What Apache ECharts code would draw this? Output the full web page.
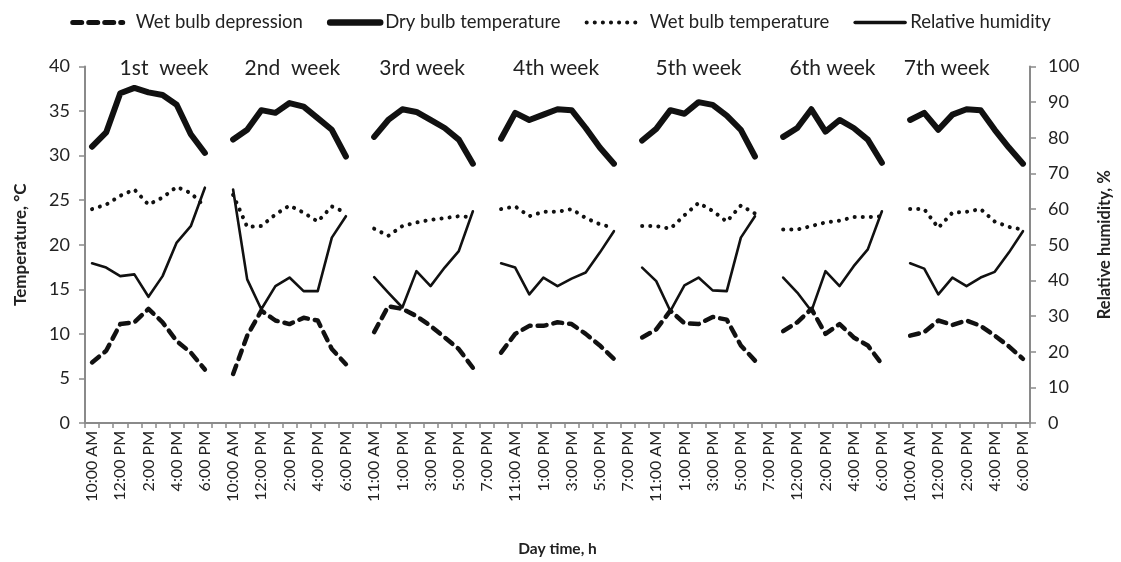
<!DOCTYPE html>
<html>
<head>
<meta charset="utf-8">
<script src="https://cdn.jsdelivr.net/npm/echarts@6/dist/echarts.min.js"></script>
<style>
  html, body { margin: 0; padding: 0; background: #fff; }
  #chart { width: 1121px; height: 562px; }
</style>
</head>
<body>
<div id="chart"></div>
<script>
// Hourly readings, seven weekly blocks separated by empty slots (null).
const timeLabels = [
  '10:00 AM','11:00 AM','12:00 PM','1:00 PM','2:00 PM','3:00 PM','4:00 PM','5:00 PM','6:00 PM','',
  '10:00 AM','11:00 AM','12:00 PM','1:00 PM','2:00 PM','3:00 PM','4:00 PM','5:00 PM','6:00 PM','',
  '11:00 AM','12:00 PM','1:00 PM','2:00 PM','3:00 PM','4:00 PM','5:00 PM','6:00 PM','7:00 PM',
  '10:00 AM','11:00 AM','12:00 PM','1:00 PM','2:00 PM','3:00 PM','4:00 PM','5:00 PM','6:00 PM','7:00 PM',
  '10:00 AM','11:00 AM','12:00 PM','1:00 PM','2:00 PM','3:00 PM','4:00 PM','5:00 PM','6:00 PM','7:00 PM',
  '11:00 AM','12:00 PM','1:00 PM','2:00 PM','3:00 PM','4:00 PM','5:00 PM','6:00 PM','',
  '10:00 AM','11:00 AM','12:00 PM','1:00 PM','2:00 PM','3:00 PM','4:00 PM','5:00 PM','6:00 PM'
];

// Wet bulb depression, °C
const wetBulbDepression = [
  6.8, 8.1, 11.1, 11.3, 12.8, 11.3, 9.2, 7.9, 6.0, null,
  5.5, 9.8, 12.6, 11.5, 11.1, 11.8, 11.5, 8.3, 6.6, null,
  10.2, 13.1, 12.8, 12.0, 10.9, 9.6, 8.3, 6.2, null,
  7.9, 10.0, 10.9, 10.9, 11.3, 11.1, 10.0, 8.7, 7.2, null,
  9.6, 10.5, 12.6, 11.2, 11.1, 11.9, 11.6, 8.7, 7.0, null,
  10.3, 11.3, 12.8, 10.0, 11.1, 9.6, 8.7, 6.6, null,
  9.8, 10.2, 11.5, 11.0, 11.5, 10.9, 9.8, 8.6, 7.2
];

// Dry bulb temperature, °C
const dryBulbTemp = [
  31.0, 32.6, 37.0, 37.6, 37.1, 36.8, 35.7, 32.4, 30.3, null,
  31.8, 32.9, 35.1, 34.8, 35.9, 35.5, 34.2, 32.9, 29.9, null,
  32.1, 34.0, 35.2, 34.9, 34.0, 33.1, 31.8, 29.1, null,
  31.9, 34.8, 34.0, 34.6, 35.2, 35.1, 33.1, 30.9, 29.1, null,
  31.7, 33.0, 35.1, 34.7, 36.0, 35.7, 34.5, 32.9, 29.9, null,
  32.1, 33.1, 35.2, 32.7, 34.0, 33.1, 31.8, 29.2, null,
  34.0, 34.8, 32.9, 34.6, 35.2, 35.1, 32.9, 30.9, 29.1
];

// Wet bulb temperature, °C
const wetBulbTemp = [
  24.0, 24.5, 25.5, 26.2, 24.5, 25.3, 26.5, 25.8, 24.3, null,
  25.6, 22.0, 22.1, 23.4, 24.4, 23.6, 22.6, 24.3, 23.6, null,
  21.8, 21.0, 22.1, 22.5, 22.8, 23.0, 23.2, 23.1, null,
  24.0, 24.3, 23.2, 23.7, 23.7, 24.0, 23.0, 22.3, 21.9, null,
  22.1, 22.1, 21.8, 23.3, 24.7, 23.8, 22.6, 24.4, 23.5, null,
  21.7, 21.7, 22.1, 22.5, 22.7, 23.1, 23.1, 23.2, null,
  24.0, 24.0, 21.9, 23.6, 23.7, 24.0, 22.6, 22.0, 21.7
];

// Relative humidity, %
const relativeHumidity = [
  44.8, 43.6, 41.2, 41.7, 35.4, 41.2, 50.6, 55.2, 66.0, null,
  65.5, 40.3, 31.9, 38.4, 40.8, 37.0, 37.0, 52.0, 58.0, null,
  40.9, 36.6, 32.4, 42.6, 38.4, 43.6, 48.2, 59.4, null,
  44.8, 43.6, 36.1, 40.8, 38.4, 40.5, 42.2, 47.8, 53.8, null,
  43.6, 39.8, 31.4, 38.6, 40.8, 37.2, 37.0, 52.0, 58.0, null,
  40.8, 36.6, 31.4, 42.6, 38.4, 44.0, 48.7, 59.4, null,
  44.8, 43.3, 36.1, 40.8, 38.4, 40.8, 42.4, 47.8, 53.8
];

const weekTitles = ['1st  week', '2nd  week', '3rd week', '4th week', '5th week', '6th week', '7th week'];
// horizontal anchor of each week title, in category units
const weekTitleAnchors = [5.1, 14.2, 23.4, 32.9, 43.0, 52.5, 60.6];

const FONT = 'Lato, "Open Sans", sans-serif';
const TEXT = '#222';
const AXIS = '#8a8a8a';
const INK = '#111';

// stroke settings for each series: [width, dash]
const STROKES = {
  'Wet bulb depression': [4.5, [9, 7]],
  'Dry bulb temperature': [6, 'solid'],
  'Wet bulb temperature': [4, [0.1, 8]],
  'Relative humidity': [2.6, 'solid']
};
// legend swatch width and spacing before the legend text
const LEGEND_SWATCH = {
  'Wet bulb depression': [5, 8],
  'Dry bulb temperature': [6.5, 0],
  'Wet bulb temperature': [4, 8],
  'Relative humidity': [3.5, 0]
};

const chart = echarts.init(document.getElementById('chart'), null, { renderer: 'canvas' });

function lineSeries(name, data, yIndex) {
  const s = STROKES[name];
  return {
    name: name,
    type: 'line',
    yAxisIndex: yIndex,
    data: data,
    symbol: 'none',
    connectNulls: false,
    animation: false,
    itemStyle: { color: INK },
    lineStyle: { color: INK, width: s[0], type: s[1], cap: 'round', join: 'round' }
  };
}

const legendNames = ['Wet bulb depression', 'Dry bulb temperature', 'Wet bulb temperature', 'Relative humidity'];

chart.setOption({
  animation: false,
  textStyle: { fontFamily: FONT },
  legend: {
    top: 8,
    left: 'center',
    itemWidth: 50,
    itemHeight: 12,
    itemGap: 24,
    textStyle: { fontFamily: FONT, fontSize: 18.5, color: TEXT },
    itemStyle: { color: 'rgba(0,0,0,0)', borderWidth: 0, opacity: 0 },
    data: legendNames.map(function (n) {
      return {
        name: n,
        textStyle: { padding: [0, 0, 0, LEGEND_SWATCH[n][1]] },
        lineStyle: { width: LEGEND_SWATCH[n][0], type: STROKES[n][1], color: INK, cap: 'round' }
      };
    })
  },
  grid: { left: 85, right: 89, top: 66.5, bottom: 138, containLabel: false },
  xAxis: {
    type: 'category',
    data: timeLabels,
    boundaryGap: true,
    name: 'Day time, h',
    nameLocation: 'middle',
    nameGap: 118,
    nameTextStyle: { fontFamily: FONT, fontSize: 15.5, fontWeight: 'bold', color: TEXT },
    axisLine: { lineStyle: { color: AXIS, width: 2 } },
    axisTick: { show: true, interval: 0, length: 5, lineStyle: { color: AXIS, width: 1.5 } },
    axisLabel: { interval: 1, rotate: 90, fontSize: 16, color: TEXT, fontFamily: FONT, margin: 8 },
    splitLine: { show: false }
  },
  yAxis: [
    {
      type: 'value',
      min: 0, max: 40, interval: 5,
      position: 'left',
      name: 'Temperature, °C',
      nameLocation: 'middle',
      nameRotate: 90,
      nameGap: 56,
      nameTextStyle: { fontFamily: FONT, fontSize: 17, fontWeight: 'bold', color: TEXT },
      axisLine: { show: true, lineStyle: { color: AXIS, width: 2 } },
      axisTick: { show: true, length: 6, lineStyle: { color: AXIS, width: 1.5 } },
      axisLabel: { fontSize: 18, color: TEXT, fontFamily: FONT, margin: 15 },
      splitLine: { show: false }
    },
    {
      type: 'value',
      min: 0, max: 100, interval: 10,
      position: 'right',
      name: 'Relative humidity, %',
      nameLocation: 'middle',
      nameRotate: 90,
      nameGap: 66,
      nameTextStyle: { fontFamily: FONT, fontSize: 16.5, fontWeight: 'bold', color: TEXT },
      axisLine: { show: true, lineStyle: { color: AXIS, width: 2 } },
      axisTick: { show: true, length: 6, lineStyle: { color: AXIS, width: 1.5 } },
      axisLabel: { fontSize: 18, color: TEXT, fontFamily: FONT, margin: 18 },
      splitLine: { show: false }
    }
  ],
  series: [
    lineSeries('Wet bulb depression', wetBulbDepression, 0),
    lineSeries('Dry bulb temperature', dryBulbTemp, 0),
    lineSeries('Wet bulb temperature', wetBulbTemp, 0),
    lineSeries('Relative humidity', relativeHumidity, 1)
  ]
});

// Week titles placed along the top of the plot, anchored to category positions
const x0 = chart.convertToPixel({ xAxisIndex: 0 }, 0);
const x1 = chart.convertToPixel({ xAxisIndex: 0 }, 1);
const band = x1 - x0;
const yTop = chart.convertToPixel({ yAxisIndex: 0 }, 40);
chart.setOption({
  graphic: weekTitles.map(function (t, i) {
    return {
      type: 'text',
      x: x0 + weekTitleAnchors[i] * band,
      y: yTop + 2,
      style: {
        text: t,
        fontFamily: FONT,
        fontSize: 21,
        fill: TEXT,
        align: 'center',
        verticalAlign: 'middle'
      }
    };
  })
});
</script>
</body>
</html>
